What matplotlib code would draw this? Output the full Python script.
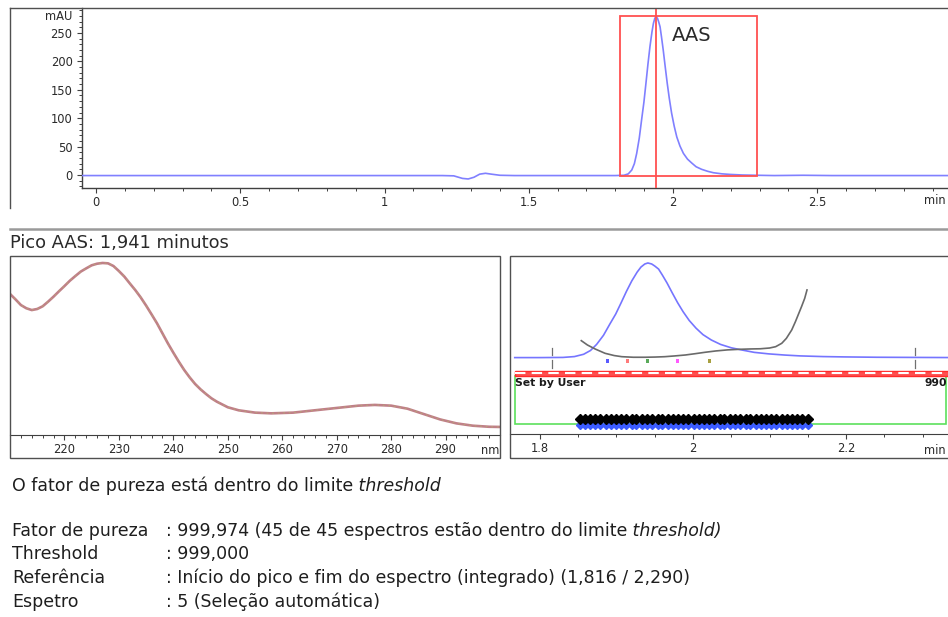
import matplotlib
matplotlib.use("Agg")
import numpy as np
import matplotlib.pyplot as plt
from matplotlib.patches import Rectangle
from matplotlib.lines import Line2D
from matplotlib.ticker import FixedLocator, MultipleLocator

plt.rcParams['font.family'] = ['DejaVu Sans']

# ---------------- data ----------------
# Chromatogram (time in min, signal in mAU)
chrom_time = [-0.05, 1.20, 1.24, 1.27, 1.29, 1.31, 1.33, 1.35, 1.37, 1.40, 1.45,
              1.80, 1.83, 1.845, 1.857, 1.866, 1.874, 1.883, 1.891, 1.899, 1.906,
              1.913, 1.920, 1.927, 1.932, 1.937, 1.941, 1.946, 1.950, 1.955, 1.960,
              1.966, 1.973, 1.980, 1.987, 1.995, 2.004, 2.013, 2.024, 2.036, 2.050,
              2.065, 2.080, 2.099, 2.120, 2.140, 2.170, 2.198, 2.240, 2.290, 2.350,
              2.450, 2.550, 2.960]
chrom_mau = [-1.0, -1.0, -1.5, -6.0, -7.0, -4.0, 1.5, 3.0, 1.5, -0.5, -1.0,
             -1.0, -0.5, 2.0, 8.8, 20.0, 38.0, 65.0, 97.0, 128.0, 161.0,
             195.0, 226.0, 252.0, 267.0, 276.0, 279.0, 276.0, 270.0, 261.0, 243.0,
             220.0, 190.0, 161.0, 135.0, 109.0, 86.0, 67.0, 51.0, 38.0, 28.0,
             21.0, 14.5, 10.0, 6.5, 4.0, 2.0, 1.0, 0.0, -0.5, -1.0,
             -0.5, -1.0, -1.0]

peak_name = "AAS"
peak_rt = 1.941
ref_start = 1.816
ref_end = 2.290
box_top_mau = 280

chrom_xticks = [0, 0.5, 1, 1.5, 2, 2.5]
chrom_xlabels = ["0", "0.5", "1", "1.5", "2", "2.5"]
chrom_yticks = [0, 50, 100, 150, 200, 250]

# UV spectrum at the peak apex (normalised absorbance)
spec_nm = [210, 211, 212, 213, 214, 215, 216, 217, 218, 219, 220, 221, 222, 223,
           224, 225, 226, 227, 228, 229, 230, 231, 232, 233, 234, 235, 236, 237,
           238, 239, 240, 241, 242, 243, 244, 245, 246, 247, 248, 250, 252, 255,
           258, 262, 266, 270, 274, 277, 280, 283, 286, 289, 292, 295, 298, 300]
spec_abs = [0.788, 0.758, 0.726, 0.708, 0.698, 0.704, 0.719, 0.745, 0.773, 0.803,
            0.832, 0.862, 0.888, 0.913, 0.931, 0.948, 0.957, 0.961, 0.959, 0.944,
            0.916, 0.885, 0.847, 0.810, 0.769, 0.723, 0.674, 0.624, 0.568, 0.512,
            0.460, 0.410, 0.363, 0.322, 0.285, 0.255, 0.229, 0.205, 0.186, 0.155,
            0.138, 0.125, 0.121, 0.125, 0.138, 0.151, 0.164, 0.168, 0.164, 0.147,
            0.117, 0.087, 0.065, 0.052, 0.046, 0.045]
spec_xticks = [220, 230, 240, 250, 260, 270, 280, 290]

# Purity curve over the peak
purity_time = [1.854, 1.862, 1.872, 1.885, 1.897, 1.907, 1.922, 1.937, 1.950,
               1.963, 1.976, 1.990, 2.003, 2.016, 2.030, 2.045, 2.060, 2.075,
               2.088, 2.100, 2.108, 2.116, 2.122, 2.129, 2.134, 2.138, 2.142,
               2.146, 2.149]
purity_val = [0.176, 0.130, 0.088, 0.042, 0.018, 0.006, 0.000, 0.000, 0.002,
              0.006, 0.014, 0.024, 0.038, 0.053, 0.067, 0.078, 0.084, 0.088,
              0.090, 0.098, 0.112, 0.148, 0.200, 0.289, 0.380, 0.460, 0.540,
              0.625, 0.714]

# Acquisition times of the 45 spectra inside the threshold
spectra_times = [1.852, 1.859, 1.866, 1.872, 1.879, 1.886, 1.893, 1.899, 1.906,
                 1.913, 1.920, 1.926, 1.933, 1.940, 1.947, 1.954, 1.960, 1.967,
                 1.974, 1.981, 1.987, 1.994, 2.001, 2.008, 2.014, 2.021, 2.028,
                 2.035, 2.041, 2.048, 2.055, 2.062, 2.069, 2.075, 2.082, 2.089,
                 2.096, 2.102, 2.109, 2.116, 2.123, 2.129, 2.136, 2.143, 2.150]

# Selected spectra markers
marker_times = [1.888, 1.914, 1.941, 1.980, 2.021]
marker_colors = ["#5a5aff", "#ff7a7a", "#5aaa5a", "#ff5aff", "#a8a040"]

purity_xticks = [1.8, 2.0, 2.2]
purity_xlabels = ["1.8", "2", "2.2"]
threshold_label = "990"

# ---------------- figure ----------------
W, H = 948, 617
fig = plt.figure(figsize=(W / 100, H / 100), dpi=100)

FRAME = "#505050"
AXC = "#404040"
TXT = "#2a2a2a"
TICK_FS = 8.3


def px_axes(x0, y0, x1, y1):
    return fig.add_axes([x0 / W, 1 - y1 / H, (x1 - x0) / W, (y1 - y0) / H])


def fig_line(x0, y0, x1, y1, **kw):
    fig.add_artist(Line2D([x0 / W, x1 / W], [1 - y0 / H, 1 - y1 / H],
                          transform=fig.transFigure, **kw))


def fig_box(x0, y0, x1, y1, **kw):
    fig.add_artist(Rectangle((x0 / W, 1 - y1 / H), (x1 - x0) / W, (y1 - y0) / H,
                             transform=fig.transFigure, fill=False, **kw))


def style_ticks(ax, pad):
    ax.tick_params(which='major', direction='out', length=3.6, width=0.8,
                   labelsize=TICK_FS, pad=pad, colors=AXC, labelcolor=TXT)
    ax.tick_params(which='minor', direction='out', length=2.2, width=0.7,
                   colors=AXC)


# ---- chromatogram ----
ax1 = px_axes(82, 8, 948, 188)
ax1.plot(chrom_time, chrom_mau, color="#8080ff", lw=1.2, zorder=3)
ax1.add_patch(Rectangle((ref_start, -1.5), ref_end - ref_start, box_top_mau + 1.5,
                        fill=False, edgecolor="#ff5050", lw=1.3, zorder=4))
ax1.axvline(peak_rt, color="#ff5050", lw=1.3, zorder=4)
ax1.text(1.9965, 246, peak_name, fontsize=14, color=TXT, ha='left', va='center')
ax1.set_xlim(-0.0485, 2.953)
ax1.set_ylim(-22.9, 294)
ax1.xaxis.set_major_locator(FixedLocator(chrom_xticks))
ax1.set_xticklabels(chrom_xlabels)
ax1.xaxis.set_minor_locator(MultipleLocator(0.1))
ax1.yaxis.set_major_locator(FixedLocator(chrom_yticks))
ax1.yaxis.set_minor_locator(MultipleLocator(10))
style_ticks(ax1, 2.5)
ax1.tick_params(axis='y', which='major', pad=3.2)
for s in ("top", "right"):
    ax1.spines[s].set_visible(False)
for s in ("left", "bottom"):
    ax1.spines[s].set_color(AXC)
    ax1.spines[s].set_linewidth(1.0)
fig.text(72 / W, 1 - 17 / H, "mAU", fontsize=TICK_FS, color=TXT, ha='right', va='center')
fig.text(946 / W, 1 - 201 / H, "min", fontsize=TICK_FS, color=TXT, ha='right', va='center')

# outer frame of the chromatogram and separator
fig_line(10, 8, 948, 8, color=FRAME, lw=1.0)
fig_line(10, 8, 10, 208, color=FRAME, lw=1.0)
fig_line(10, 229, 948, 229, color="#9a9a9a", lw=1.8)

fig.text(10 / W, 1 - 243 / H, "Pico AAS: 1,941 minutos", fontsize=12.9, color=TXT,
         ha='left', va='center')

# ---- spectrum panel ----
fig_box(10, 256, 500, 458, edgecolor=FRAME, lw=1.0)
ax2 = px_axes(10, 256, 500, 435)
ax2.plot(spec_nm, spec_abs, color="#c08088", lw=1.9, zorder=3)
ax2.plot(spec_nm, spec_abs, color="#b5b070", lw=0.8, dashes=(1.5, 3.5), alpha=0.7, zorder=4)
ax2.set_xlim(210, 300)
ax2.set_ylim(0, 1)
ax2.xaxis.set_major_locator(FixedLocator(spec_xticks))
ax2.xaxis.set_minor_locator(MultipleLocator(2))
ax2.set_yticks([])
style_ticks(ax2, 2.0)
for s in ("top", "right", "left"):
    ax2.spines[s].set_visible(False)
ax2.spines["bottom"].set_color(AXC)
fig.text(499 / W, 1 - 451 / H, "nm", fontsize=TICK_FS, color=TXT, ha='right', va='center')

# ---- peak purity panel ----
fig_box(510, 256, 980, 458, edgecolor=FRAME, lw=1.0)
ax3 = px_axes(510, 256, 948, 434)
x_lo, x_hi = 1.7608, 2.3333
ax3.set_xlim(x_lo, x_hi)
ax3.set_ylim(-0.814, 1.074)

peak_max = max(chrom_mau)
mini_t = [t for t in chrom_time if t >= 1.76]
mini_v = [v / peak_max for t, v in zip(chrom_time, chrom_mau) if t >= 1.76]
ax3.plot([1.767] + mini_t, [mini_v[0]] + mini_v, color="#7575ff", lw=1.2, zorder=3)
ax3.plot(purity_time, purity_val, color="#6a6a6a", lw=1.2, zorder=4)

for xr in (ref_start, ref_end):
    ax3.plot([xr, xr], [0.10, 0.02], color="#707070", lw=0.9, zorder=5)
    ax3.plot([xr, xr], [-0.03, -0.113], color="#707070", lw=0.9, zorder=5)

ax3.scatter(marker_times, [-0.04] * len(marker_times), s=5, marker='s',
            c=marker_colors, linewidths=0, zorder=5)

# threshold band and spectrum window
ax3.add_patch(Rectangle((1.767, -0.707), 2.3307 - 1.767, 0.707 - 0.198,
                        fill=False, edgecolor="#5ce05c", lw=1.2, zorder=2))
ax3.add_patch(Rectangle((1.767, -0.198), 0.6, 0.056, facecolor="#ff5050",
                        edgecolor="#ff2a2a", lw=1.0, zorder=3))
ax3.plot([1.767, 2.4], [-0.170, -0.170], color="white", lw=1.5,
         dashes=(5.0, 3.0), solid_capstyle='butt', zorder=4)
ax3.text(1.7675, -0.272, "Set by User", fontsize=7.8, fontweight='bold',
         color="#1a1a1a", ha='left', va='center')
ax3.text(2.3325, -0.272, threshold_label, fontsize=7.8, fontweight='bold',
         color="#1a1a1a", ha='right', va='center')

ax3.plot(spectra_times, [-0.716] * len(spectra_times), linestyle='none',
         marker='D', ms=3.6, color="#3a5aff", zorder=5)
ax3.plot(spectra_times, [-0.655] * len(spectra_times), linestyle='none',
         marker='D', ms=4.8, color="black", zorder=6)

ax3.xaxis.set_major_locator(FixedLocator(purity_xticks))
ax3.set_xticklabels(purity_xlabels)
ax3.xaxis.set_minor_locator(MultipleLocator(0.05))
ax3.set_yticks([])
style_ticks(ax3, 2.0)
for s in ("top", "right", "left"):
    ax3.spines[s].set_visible(False)
ax3.spines["bottom"].set_color(AXC)
fig.text(946 / W, 1 - 450 / H, "min", fontsize=TICK_FS, color=TXT, ha='right', va='center')

# ---- purity report ----
renderer = fig.canvas.get_renderer()
REPORT_FS = 12.5


def text_runs(x_px, y_px, runs):
    x = x_px
    for s, style in runs:
        t = fig.text(x / W, 1 - y_px / H, s, fontsize=REPORT_FS, style=style,
                     color="#1e1e1e", ha='left', va='baseline')
        x = t.get_window_extent(renderer=renderer).x1


text_runs(12, 491, [("O fator de pureza está dentro do limite", 'normal'),
                    (" threshold", 'italic')])

label_x, value_x = 12, 166
report_rows = [
    ("Fator de pureza", [(": 999,974 (45 de 45 espectros estão dentro do limite", 'normal'),
                         (" threshold)", 'italic')], 536),
    ("Threshold", [(": 999,000", 'normal')], 559),
    ("Referência", [(": Início do pico e fim do espectro (integrado) (1,816 / 2,290)", 'normal')], 583),
    ("Espetro", [(": 5 (Seleção automática)", 'normal')], 607),
]
for label, runs, y in report_rows:
    text_runs(label_x, y, [(label, 'normal')])
    text_runs(value_x, y, runs)

fig.savefig("out.png", dpi=100, facecolor="white")
